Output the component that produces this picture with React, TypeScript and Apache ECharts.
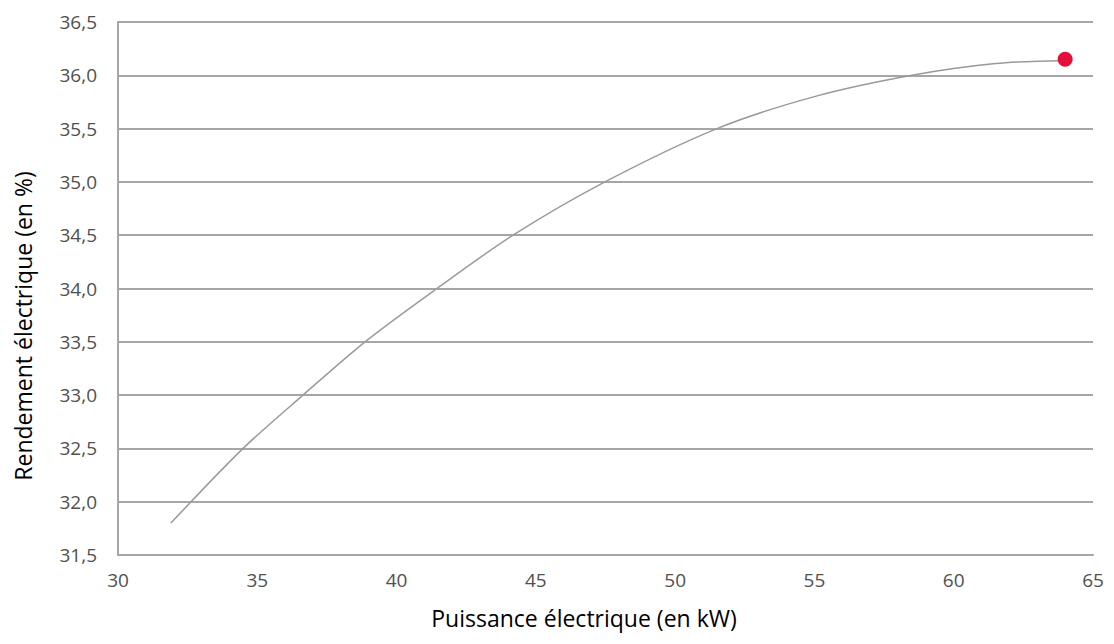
import React, { useEffect, useRef } from "react";
import * as echarts from "echarts";

const puissance = [31.9, 34.49, 36.64, 38.87, 41.45, 44.18, 47.48, 51.5, 55.0, 58.5, 61.5, 64.0];
const rendement = [31.8, 32.5, 33.0, 33.5, 34.0, 34.5, 35.0, 35.5, 35.8, 36.0, 36.11, 36.14];
const pointNominal = [64.0, 36.15];

const xTitle = "Puissance électrique (en kW)";
const yTitle = "Rendement électrique (en %)";

export default function App() {
  const ref = useRef<HTMLDivElement>(null);
  useEffect(() => {
    if (!ref.current) return;
    const chart = echarts.init(ref.current, undefined, { renderer: "svg" });
    const font = "'Open Sans', 'Noto Sans', sans-serif";
    chart.setOption({
      animation: false,
      backgroundColor: "#ffffff",
      grid: { left: 118, right: 21, top: 22, bottom: 89, containLabel: false },
      xAxis: {
        type: "value",
        min: 30,
        max: 65,
        interval: 5,
        axisLine: { show: true, lineStyle: { color: "#a6a6a6", width: 2 } },
        axisTick: { show: false },
        splitLine: { show: false },
        axisLabel: { color: "#505050", fontSize: 19, fontFamily: font, margin: 15 },
      },
      yAxis: {
        type: "value",
        min: 31.5,
        max: 36.5,
        interval: 0.5,
        axisLine: { show: true, lineStyle: { color: "#a6a6a6", width: 2 } },
        axisTick: { show: false },
        splitLine: { show: true, lineStyle: { color: "#a6a6a6", width: 2 } },
        axisLabel: {
          color: "#505050",
          fontSize: 19,
          fontFamily: font,
          margin: 21,
          formatter: (v: number) => v.toFixed(1).replace(".", ","),
        },
      },
      graphic: [
        {
          type: "text",
          x: 584,
          y: 618,
          style: {
            text: xTitle,
            fill: "#000000",
            fontSize: 23,
            fontFamily: font,
            align: "center",
            verticalAlign: "middle",
          },
        },
        {
          type: "text",
          x: 23,
          y: 326,
          rotation: Math.PI / 2,
          style: {
            text: yTitle,
            fill: "#000000",
            fontSize: 23,
            fontFamily: font,
            align: "center",
            verticalAlign: "middle",
          },
        },
      ],
      series: [
        {
          type: "line",
          data: puissance.map((x, i) => [x, rendement[i]]),
          smooth: 0.3,
          showSymbol: false,
          lineStyle: { color: "#9a9a9a", width: 1.5 },
          z: 2,
        },
        {
          type: "scatter",
          data: [pointNominal],
          symbolSize: 15,
          itemStyle: { color: "#e3103c", opacity: 1 },
          z: 3,
        },
      ],
    });
    return () => chart.dispose();
  }, []);
  return (
    <div
      ref={ref}
      style={{ position: "fixed", left: 0, top: 0, width: 1114, height: 644 }}
    />
  );
}
